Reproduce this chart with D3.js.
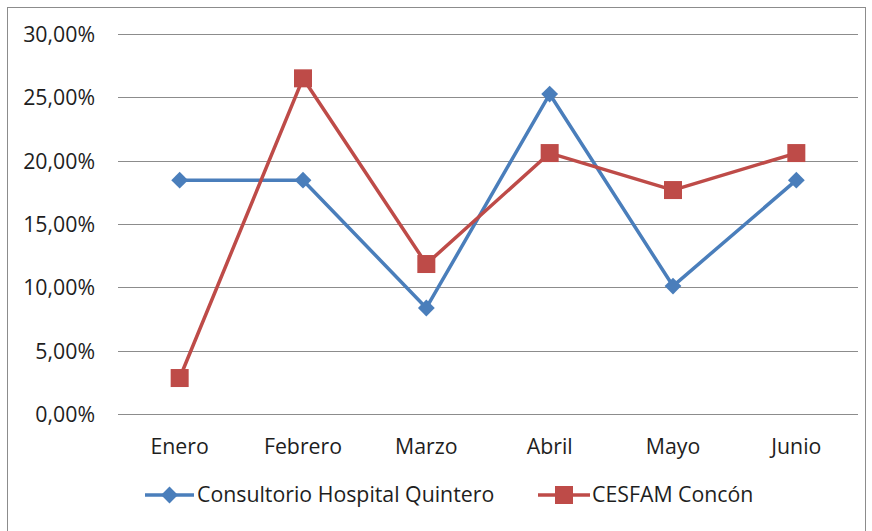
<!DOCTYPE html>
<html>
<head>
<meta charset="utf-8">
<script src="https://cdn.jsdelivr.net/npm/d3@7"></script>
<style>
  body { margin: 0; background: #fff; }
  svg text { font-family: "Open Sans", "Liberation Sans", sans-serif; fill: #1e1e1e; }
</style>
</head>
<body>
<svg></svg>
<script>
const w = 872
const h = 531

// data
const months = ['Enero', 'Febrero', 'Marzo', 'Abril', 'Mayo', 'Junio']
const quintero = [18.46, 18.46, 8.37, 25.26, 10.1, 18.46]
const concon = [2.84, 26.5, 11.84, 20.6, 17.68, 20.6]
const yTicks = [0, 5, 10, 15, 20, 25, 30]
const seriesNames = ['Consultorio Hospital Quintero', 'CESFAM Concón']

const blue = '#4a7ebb'
const red = '#be4b48'
const fontSize = '21.3px'

const svg = d3.select('svg').attr('width', w).attr('height', h)

// outer border
svg.append('rect')
    .attr('x', 7.5).attr('y', 7.5)
    .attr('width', 858).attr('height', 530)
    .attr('fill', 'none').attr('stroke', '#8c8c8c')

const plotLeft = 118, plotRight = 858, plotTop = 34, plotBottom = 414

const x = d3.scaleBand().domain(months).range([plotLeft, plotRight])
const y = d3.scaleLinear().domain([0, 30]).range([plotBottom, plotTop])

// gridlines
svg.append('g')
    .selectAll('line')
    .data(yTicks)
    .enter()
    .append('line')
    .attr('x1', plotLeft).attr('x2', plotRight)
    .attr('y1', d => Math.round(y(d)) + 0.5)
    .attr('y2', d => Math.round(y(d)) + 0.5)
    .attr('stroke', '#8c8c8c')
    .attr('stroke-width', 1)

// y labels
const fmt = d => d.toFixed(2).replace('.', ',') + '%'
svg.append('g')
    .selectAll('text')
    .data(yTicks)
    .enter()
    .append('text')
    .attr('x', 95)
    .attr('y', d => y(d) + 8)
    .attr('text-anchor', 'end')
    .style('font-size', fontSize)
    .text(fmt)

// x labels
svg.append('g')
    .selectAll('text')
    .data(months)
    .enter()
    .append('text')
    .attr('x', d => x(d) + x.bandwidth() / 2)
    .attr('y', 454)
    .attr('text-anchor', 'middle')
    .style('font-size', fontSize)
    .text(d => d)

const cx = d => x(d) + x.bandwidth() / 2
const line = d3.line().x((d, i) => cx(months[i])).y(d => y(d))

const diamond = d3.symbol().type(d3.symbolDiamond2).size(180)

// series: blue
svg.append('path')
    .attr('d', line(quintero))
    .attr('fill', 'none').attr('stroke', blue).attr('stroke-width', 3.5)
    .attr('stroke-linejoin', 'round')
svg.append('g')
    .selectAll('path')
    .data(quintero)
    .enter()
    .append('path')
    .attr('d', diamond)
    .attr('transform', (d, i) => `translate(${cx(months[i])},${y(d)})`)
    .attr('fill', blue)

// series: red
svg.append('path')
    .attr('d', line(concon))
    .attr('fill', 'none').attr('stroke', red).attr('stroke-width', 3.5)
    .attr('stroke-linejoin', 'round')
svg.append('g')
    .selectAll('rect')
    .data(concon)
    .enter()
    .append('rect')
    .attr('x', (d, i) => cx(months[i]) - 9)
    .attr('y', d => y(d) - 9)
    .attr('width', 18).attr('height', 18)
    .attr('fill', red)

// legend
const legY = 495
const leg1 = svg.append('g')
leg1.append('line').attr('x1', 145).attr('x2', 194).attr('y1', legY).attr('y2', legY)
    .attr('stroke', blue).attr('stroke-width', 3.5)
leg1.append('path').attr('d', diamond).attr('transform', `translate(169.5,${legY})`).attr('fill', blue)
leg1.append('text').attr('x', 197).attr('y', legY + 7).style('font-size', fontSize).text(seriesNames[0])

const leg2 = svg.append('g')
leg2.append('line').attr('x1', 538).attr('x2', 590).attr('y1', legY).attr('y2', legY)
    .attr('stroke', red).attr('stroke-width', 3.5)
leg2.append('rect').attr('x', 555).attr('y', legY - 9).attr('width', 18).attr('height', 18).attr('fill', red)
leg2.append('text').attr('x', 592).attr('y', legY + 7).style('font-size', fontSize).text(seriesNames[1])
</script>
</body>
</html>
